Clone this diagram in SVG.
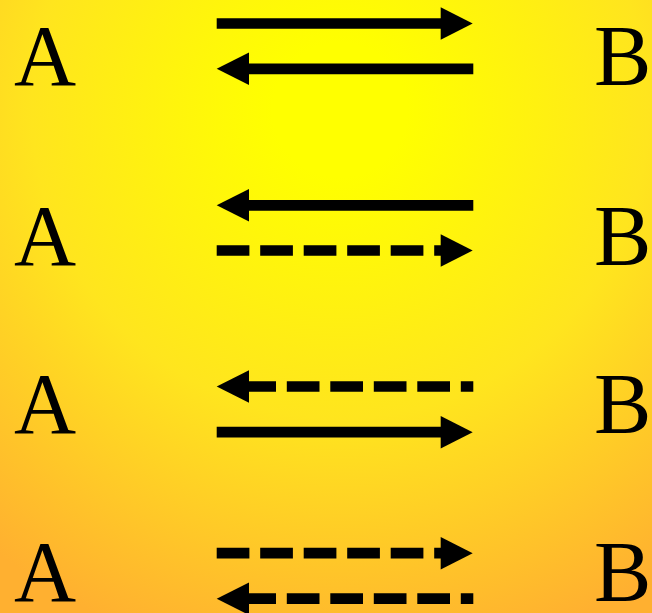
<svg xmlns="http://www.w3.org/2000/svg" width="652" height="613" viewBox="0 0 652 613">
<defs>
<radialGradient id="bg" gradientUnits="userSpaceOnUse" cx="340" cy="110" r="560">
<stop offset="0" stop-color="#ffff00"/>
<stop offset="0.12" stop-color="#ffff00"/>
<stop offset="0.55" stop-color="#ffe51e"/>
<stop offset="1" stop-color="#ffb030"/>
</radialGradient>
<style>
.lbl{font-family:"Liberation Serif","Times New Roman",serif;font-size:86px;fill:#000}
.ln{stroke:#000;stroke-width:10.7;fill:none}
.dash{stroke-dasharray:32.7 10.8}
.hd{fill:#000}
</style>
</defs>
<rect width="652" height="613" fill="url(#bg)"/>
<g id="nodes">
<g id="A1"><text class="lbl" x="14" y="85">A</text></g>
<g id="B1"><text class="lbl" x="594" y="85">B</text></g>
<g id="A2"><text class="lbl" x="14" y="265">A</text></g>
<g id="B2"><text class="lbl" x="594" y="265">B</text></g>
<g id="A3"><text class="lbl" x="14" y="433">A</text></g>
<g id="B3"><text class="lbl" x="594" y="433">B</text></g>
<g id="A4"><text class="lbl" x="14" y="601">A</text></g>
<g id="B4"><text class="lbl" x="594" y="601">B</text></g>
</g>
<g id="connectors">
<g id="r1-fwd"><line class="ln" x1="216.7" y1="23.5" x2="442" y2="23.5"/><polygon class="hd" points="440.7,7.3 472.7,23.5 440.7,39.8"/></g>
<g id="r1-back"><line class="ln" x1="248" y1="68.8" x2="473.3" y2="68.8"/><polygon class="hd" points="216.7,68.8 249,52.5 249,85.1"/></g>
<g id="r2-back"><line class="ln" x1="248" y1="205.3" x2="473.3" y2="205.3"/><polygon class="hd" points="216.7,205.3 249,189 249,221.6"/></g>
<g id="r2-fwd"><line class="ln dash" x1="216.7" y1="250.5" x2="442" y2="250.5"/><polygon class="hd" points="440.7,234.3 472.7,250.5 440.7,266.8"/></g>
<g id="r3-back"><line class="ln dash" x1="243.3" y1="386.5" x2="473.3" y2="386.5"/><polygon class="hd" points="216.7,386.5 249,370.2 249,402.8"/></g>
<g id="r3-fwd"><line class="ln" x1="216.7" y1="432.2" x2="442" y2="432.2"/><polygon class="hd" points="440.7,416 472.7,432.2 440.7,448.5"/></g>
<g id="r4-fwd"><line class="ln dash" x1="216.7" y1="553.2" x2="442" y2="553.2"/><polygon class="hd" points="440.7,537 472.7,553.2 440.7,569.5"/></g>
<g id="r4-back"><line class="ln dash" x1="243.3" y1="598.7" x2="473.3" y2="598.7"/><polygon class="hd" points="216.7,598.7 249,582.4 249,615"/></g>
</g>
</svg>
